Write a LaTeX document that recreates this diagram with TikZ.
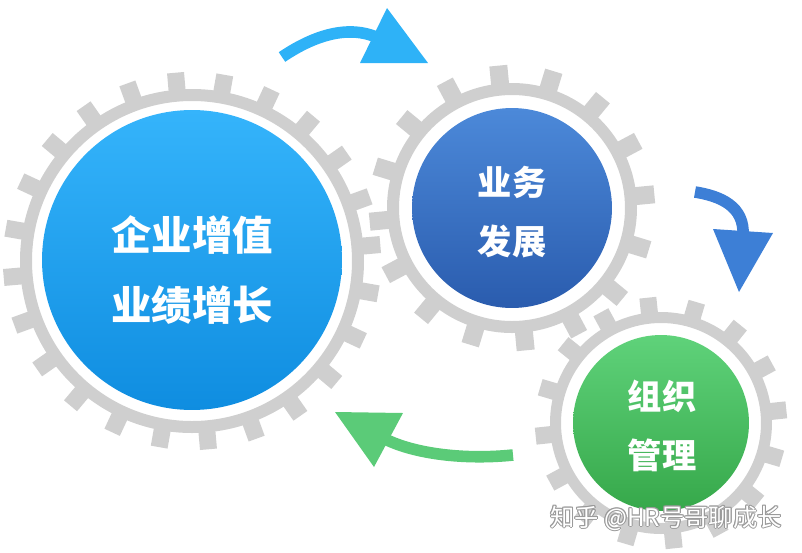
\documentclass[tikz,border=0pt]{standalone}
\usepackage{fontspec}
\newfontfamily\cjk{Noto Sans CJK SC}

\definecolor{gearcol}{HTML}{CFCFCF}
\definecolor{bigtop}{HTML}{35B4FB}
\definecolor{bigbot}{HTML}{0F8DE0}
\definecolor{midtop}{HTML}{4C89D9}
\definecolor{midbot}{HTML}{2A5CAE}
\definecolor{smltop}{HTML}{5FD27A}
\definecolor{smlbot}{HTML}{36A84A}
\definecolor{arrowa}{HTML}{2EB2F7}
\definecolor{arrowb}{HTML}{3D7FD6}
\definecolor{arrowc}{HTML}{5BCB78}
\definecolor{markline}{HTML}{9A9A9A}

\begin{document}
\begin{tikzpicture}[x=0.02cm, y=0.02cm,
  disc/.style={circle, inner sep=0pt},
  bigtext/.style={text=white, align=center, font=\cjk\bfseries\fontsize{23}{39.7}\selectfont},
  smalltext/.style={text=white, align=center, font=\cjk\bfseries\fontsize{19.5}{33.5}\selectfont},
  marktext/.style={inner sep=0pt, font=\cjk\fontsize{13.8}{16}\selectfont},
  shaft/.style={line width=6.6pt}]
\useasboundingbox (0,0) rectangle (802,-552);
\fill [gearcol, even odd rule] (192,-261) circle (172) circle (160);
\foreach \a in {5,20,...,350}
  \fill [gearcol, shift={(192,-261)}, rotate=\a] (168,-8.5) rectangle (189,8.5);
\fill [gearcol, even odd rule] (512,-208) circle (125) circle (113);
\foreach \a in {5.5,28,...,343}
  \fill [gearcol, shift={(512,-208)}, rotate=\a] (121,-9) rectangle (143,9);
\fill [gearcol, even odd rule] (661,-423) circle (111) circle (100);
\foreach \a in {6,28.5,...,343.5}
  \fill [gearcol, shift={(661,-423)}, rotate=\a] (107,-8.5) rectangle (126,8.5);
\node [disc, minimum size=6cm, top color=bigtop, bottom color=bigbot] (growth) at (192,-260) {};
\node [disc, minimum size=4cm, top color=midtop, bottom color=midbot] (business) at (512,-208) {};
\node [disc, minimum size=3.52cm, top color=smltop, bottom color=smlbot] (org) at (661,-423) {};
\node [bigtext] (growthtext) at (192,-270) {企业增值\\业绩增长};
\node [smalltext] (businesstext) at (512,-212) {业务\\发展};
\node [smalltext] (orgtext) at (662,-426) {组织\\管理};
\coordinate (upstart) at (282,-57);
\coordinate (upend) at (376,-37);
\draw [shaft, arrowa] (upstart) .. controls (310,-38) and (345,-24) .. (upend);
\fill [arrowa] (387,-8) -- (360,-63) -- (428,-63) -- cycle;
\coordinate (downstart) at (695,-192);
\coordinate (downend) at (743,-236);
\draw [shaft, arrowb] (downstart) .. controls (720,-196) and (745,-206) .. (downend);
\fill [arrowb] (713,-229) -- (773,-233) -- (739,-292) -- cycle;
\coordinate (backstart) at (513,-455);
\coordinate (backend) at (385,-439);
\draw [shaft, arrowc] (backstart) .. controls (465,-460) and (415,-454) .. (backend);
\fill [arrowc] (335,-412) -- (403,-413) -- (374,-467) -- cycle;
\foreach \dx/\dy [count=\i] in {1/0,-1/0,0/1,0/-1,0.7/0.7,-0.7/0.7,0.7/-0.7,-0.7/-0.7}
  \node [marktext, text=markline] (markshade\i) at (666+\dx,-518+\dy) {知乎 @HR号哥聊成长};
\node [marktext, text=white] (mark) at (666,-518) {知乎 @HR号哥聊成长};
\end{tikzpicture}
\end{document}
